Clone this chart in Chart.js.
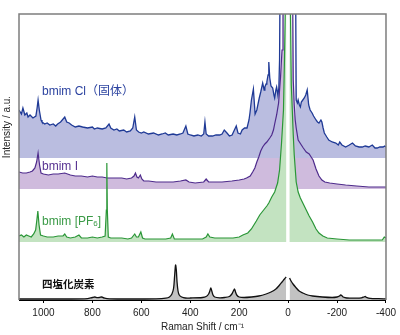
<!DOCTYPE html>
<html>
<head>
<meta charset="utf-8">
<script src="https://cdn.jsdelivr.net/npm/chart.js@4.4.0/dist/chart.umd.min.js"></script>
<style>
  html, body { margin: 0; padding: 0; background: #fff; }
  #wrap { width: 400px; height: 335px; }
</style>
</head>
<body>
<div id="wrap"><canvas id="raman" width="400" height="335"></canvas></div>
<script>
// x ticks (cm-1), axis runs 1100 -> -400
const tickValues = [1000, 800, 600, 400, 200, 0, -200, -400];

// bmim Cl (solid)
const clShift = [1100,1090,1084,1076,1068,1063,1055,1043,1031,1026,1022,1017,1010,1006,995,985,974,960,950,942,930,913,905,895,885,870,855,840,820,800,792,780,760,745,732,725,712,700,690,672,660,645,635,627,620,611,600,590,571,550,530,515,502,490,470,455,440,430,418,410,400,385,369,355,345,340,335,325,309,295,280,270,261,250,240,229,212,205,195,188,178,168,160,156,150,142,135,128,118,112,104,98,95,90,87,82,79,75,70,63,58,55,50,47,42,38,35,31,0,-29,-33,-38,-41,-46,-50,-54,-60,-66,-72,-78,-84,-90,-98,-104,-114,-120,-126,-134,-138,-143,-148,-158,-166,-180,-195,-205,-211,-220,-235,-250,-263,-275,-290,-303,-315,-330,-344,-355,-364,-375,-388,-395,-400];
const clVal = [190,186,192,185,187,183,185,182,184,192,200,190,180,178,176,177,175,176,174,176,178,183,178,177,175,173,174,173,172,173,171,172,171,172,176,172,170,171,169,170,168,169,172,183,170,168,167,168,166,167,165,166,167,165,166,165,166,167,174,166,165,164,165,164,166,178,166,164,164,165,165,166,170,167,164,165,174,167,166,170,172,172,180,187,200,211,186,190,202,208,217,210,213,216,218,225,238,222,214,212,205,202,210,213,205,212,240,400,null,400,200,197,200,195,193,198,200,202,205,210,195,190,187,184,180,178,177,180,178,172,167,163,160,158,157,155,158,155,153,155,157,154,153,153,154,153,155,152,152,153,153,154,153];

// bmim I
const biShift = [1100,1085,1070,1055,1045,1035,1028,1022,1016,1010,1000,980,960,940,913,890,870,845,820,800,780,760,740,720,700,680,660,640,630,624,618,612,604,598,590,570,540,510,470,440,418,405,380,345,335,325,300,270,230,200,180,170,155,145,136,128,120,112,104,95,87,75,67,60,55,47,39,31,25,21,17,0,-16,-21,-25,-29,-33,-41,-54,-62,-74,-86,-94,-102,-114,-126,-138,-150,-170,-200,-235,-280,-330,-370,-400];
const biVal = [128,127,127,128,129,132,138,147,135,127,126,125,126,126,127,125,124,124,123,124,123,123,122,122,122,122,121,122,124,127,123,122,125,121,119,119,118,118,118,119,120,118,117,118,121,118,118,118,119,120,121,122,124,128,132,138,143,149,153,156,158,162,165,170,176,185,197,223,250,290,400,null,400,220,195,180,172,160,155,152,148,146,143,140,131,124,120,118,117,116,115,114,113,113,113];

// bmim [PF6]
const pfShift = [1100,1090,1080,1070,1060,1050,1040,1032,1027,1023,1018,1012,1000,985,960,940,920,913,905,890,870,855,845,820,800,780,760,748,743,741,739,735,725,700,680,655,640,627,620,612,602,595,585,560,540,520,500,480,473,465,440,410,380,350,335,328,320,300,260,225,200,185,165,150,130,116,100,87,79,67,55,43,35,27,19,15,11,7,0,-5,-9,-13,-17,-21,-25,-33,-41,-50,-62,-74,-86,-100,-114,-126,-142,-160,-200,-250,-300,-350,-385,-393,-400];
const pfVal = [64,65,63,65,64,63,66,70,80,89,75,65,64,63,63,64,64,66,63,62,63,65,62,62,63,62,63,64,90,137,90,63,62,62,62,61,62,66,63,63,68,62,61,61,61,61,61,62,66,61,61,61,61,61,63,66,63,62,62,62,63,65,67,71,79,85,90,94,97,103,108,117,130,157,190,240,300,400,null,400,300,215,190,165,145,118,108,102,96,90,84,78,71,67,64,62,61,60,60,60,60,63,62];

// CCl4
const ccShift = [1100,900,820,800,790,780,770,762,750,730,650,540,500,485,475,468,464,460,457,454,450,445,435,420,400,350,335,325,320,316,312,307,300,280,260,240,230,224,219,215,210,200,180,150,120,90,70,50,35,25,15,8,0,-6,-12,-20,-30,-45,-60,-80,-100,-140,-180,-200,-210,-215,-219,-225,-240,-280,-300,-310,-315,-320,-335,-370,-400];
const ccVal = [1,1,1.3,2.5,3,2.3,2.6,3,1.8,1.2,1,1.2,1.8,3,6,12,24,35,30,18,9,5,3,2,2,2.5,3.5,6,9,12,9,5,3,2.2,2.5,3.5,6,9,11,8,5,3,2.5,3,4,6,8,11,15,18,21,23,null,22,19,16,13,9,7,5,4,3,2.5,3,4,5,4.5,3,2,1.8,2.2,3,3.5,2.7,1.7,1.3,1.2];

// fill floor of each trace (same y units)
const fillBase = { cl: 142, bi: 111, pf: 58, cc: 0 };

const FONT = '"Liberation Sans", Arial, "Noto Sans CJK JP", sans-serif';
const JP = '"Noto Sans CJK JP", sans-serif';

function toPoints(xs, ys) {
  return xs.map((x, i) => ({ x: x, y: ys[i] }));
}

function trace(label, xs, ys, base, line, fill, width, tension) {
  return {
    label: label,
    data: toPoints(xs, ys),
    borderColor: line,
    backgroundColor: fill,
    borderWidth: width,
    fill: { value: base },
    pointRadius: 0,
    tension: tension,
    spanGaps: false,
  };
}

// trace names drawn next to the spectra
const traceLabels = [
  { parts: [{ t: 'bmim Cl（固体）' }], color: '#2c43a0', at: [1006, 208] },
  { parts: [{ t: 'bmim I' }], color: '#583392', at: [1006, 133] },
  { parts: [{ t: 'bmim [PF' }, { t: '6', sub: true }, { t: ']' }], color: '#3a9a46', at: [1006, 78] },
  { parts: [{ t: '四塩化炭素' }], color: '#111', at: [1006, 16], bold: true },
];

const decor = {
  id: 'decor',
  afterDatasetsDraw(chart) {
    const { ctx, chartArea: a } = chart;
    ctx.save();
    ctx.strokeStyle = '#7d7d7d';
    ctx.lineWidth = 1.5;
    ctx.beginPath();
    ctx.moveTo(a.left, a.bottom);
    ctx.lineTo(a.left, a.top);
    ctx.lineTo(a.right, a.top);
    ctx.lineTo(a.right, a.bottom);
    ctx.stroke();
    ctx.restore();
  },
  afterDraw(chart) {
    const { ctx, chartArea: a, scales } = chart;
    ctx.save();
    ctx.textBaseline = 'middle';
    ctx.textAlign = 'left';
    traceLabels.forEach(l => {
      let x = scales.x.getPixelForValue(l.at[0]);
      const y = scales.y.getPixelForValue(l.at[1]);
      ctx.fillStyle = l.color;
      l.parts.forEach(p => {
        if (l.bold) ctx.font = 'bold 10.5px ' + JP;
        else ctx.font = p.sub ? '8px ' + FONT : '12px ' + FONT;
        ctx.fillText(p.t, x, p.sub ? y + 1.5 : y);
        x += ctx.measureText(p.t).width;
      });
    });
    // y axis title
    ctx.translate(a.left - 12, scales.y.getPixelForValue(173));
    ctx.rotate(-Math.PI / 2);
    ctx.textAlign = 'center';
    ctx.fillStyle = '#222';
    ctx.font = '10px ' + FONT;
    ctx.fillText('Intensity / a.u.', 0, 0);
    ctx.restore();
  }
};

new Chart(document.getElementById('raman'), {
  type: 'line',
  data: {
    datasets: [
      trace('bmim [PF6]', pfShift, pfVal, fillBase.pf, '#2a9637', '#c3e3c1', 1.2, 0),
      trace('bmim Cl', clShift, clVal, fillBase.cl, '#1f3a96', '#babde0', 1.3, 0),
      trace('bmim I', biShift, biVal, fillBase.bi, '#4e2b8c', '#cfbbdd', 1.2, 0),
      trace('CCl4', ccShift, ccVal, fillBase.cc, '#111111', '#c2c2c2', 1.3, 0.3),
    ],
  },
  options: {
    responsive: false,
    animation: false,
    devicePixelRatio: 1,
    layout: { padding: { left: 19, top: 14, right: 9, bottom: 0 } },
    plugins: {
      legend: { display: false },
      tooltip: { enabled: false },
      filler: { drawTime: 'beforeDatasetsDraw' },
    },
    scales: {
      x: {
        type: 'linear',
        min: -400,
        max: 1100,
        reverse: true,
        afterBuildTicks: s => { s.ticks = tickValues.map(v => ({ value: v })); },
        afterFit: s => { s.height = 35; },
        ticks: {
          autoSkip: false,
          maxRotation: 0,
          padding: 4,
          color: '#222',
          font: { family: FONT, size: 10 },
          callback: v => String(v),
        },
        grid: { drawOnChartArea: false, drawTicks: true, tickLength: 3, color: '#000', lineWidth: 1 },
        border: { display: true, color: '#000', width: 1 },
        title: {
          display: true,
          text: 'Raman Shift / cm⁻¹',
          color: '#222',
          font: { family: FONT, size: 10 },
          padding: { top: 0, bottom: 2 },
        },
      },
      y: { display: false, min: 0, max: 286 },
    },
  },
  plugins: [decor],
});
</script>
</body>
</html>
